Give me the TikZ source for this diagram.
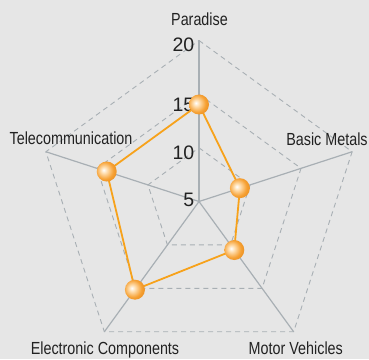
\documentclass[tikz,border=0pt]{standalone}
\usepackage{fontspec}
\setmainfont{Liberation Sans}
\newfontfamily\narrowfont{Liberation Sans}[FakeStretch=0.82]
\definecolor{bg}{HTML}{E6E6E6}
\definecolor{axisgray}{HTML}{A8AFB4}
\definecolor{lineorange}{HTML}{F7A21B}
\definecolor{ballhi}{HTML}{FFE2B8}
\definecolor{ballorange}{HTML}{F6A032}
\definecolor{balldark}{HTML}{D8780C}
\definecolor{txt}{HTML}{222222}
\pgfdeclareradialshading{orangeball}{\pgfpoint{-8bp}{4bp}}{color(0bp)=(white); color(7bp)=(ballhi); color(22bp)=(ballorange); color(44bp)=(balldark); color(70bp)=(balldark)}
\begin{document}
\begin{tikzpicture}[x=1pt,y=1pt,
  ring/.style={draw=axisgray,line width=0.9pt,dash pattern=on 5pt off 4pt},
  axisline/.style={draw=axisgray,line width=1.2pt},
  dataline/.style={draw=lineorange,line width=1.8pt,line join=round},
  ballnode/.style={circle,minimum size=20pt,inner sep=0pt,shading=orangeball},
  catlabel/.style={text=txt,inner sep=0pt,anchor=base,font=\narrowfont\fontsize{17.5}{20}\selectfont},
  numlabel/.style={text=txt,inner sep=0pt,anchor=base east,font=\fontsize{19.5}{22}\selectfont}]
\fill[bg] (-199,-157.5) rectangle (170,201.5);
\useasboundingbox (-199,-157.5) rectangle (170,201.5);
\coordinate (O) at (0,0);
\foreach \a/\n in {90/p,18/b,-54/m,-126/e,162/t}{
  \coordinate (\n1) at (\a:53.7);
  \coordinate (\n2) at (\a:107.3);
  \coordinate (\n3) at (\a:161);
}
\foreach \k in {1,2,3}{
  \draw[ring] (p\k) -- (b\k) -- (m\k) -- (e\k) -- (t\k) -- cycle;
}
\foreach \n in {p,b,m,e,t}{
  \draw[axisline] (O) -- (\n3);
}
\node[numlabel] (n20) at (-4.5,149.8) {20};
\node[numlabel] (n15) at (-4.5,89.5) {15};
\node[numlabel] (n10) at (-4.5,42.2) {10};
\node[numlabel] (n5) at (-4.5,-4.5) {5};
\node[catlabel] (lp) at (0.5,175.8) {Paradise};
\node[catlabel] (lb) at (128,56.5) {Basic Metals};
\node[catlabel] (lt) at (-128,57.2) {Telecommunication};
\node[catlabel] (le) at (-94,-152.5) {Electronic Components};
\node[catlabel] (lm) at (96.8,-152.5) {Motor Vehicles};
\coordinate (dp) at (90:97);
\coordinate (db) at (18:43);
\coordinate (dm) at (-54:60);
\coordinate (de) at (-126:109);
\coordinate (dt) at (162:97);
\draw[dataline] (dp) -- (db) -- (dm) -- (de) -- (dt) -- cycle;
\node[ballnode] (bp) at (dp) {};
\node[ballnode] (bb) at (db) {};
\node[ballnode] (bm) at (dm) {};
\node[ballnode] (be) at (de) {};
\node[ballnode] (bt) at (dt) {};
\end{tikzpicture}
\end{document}
